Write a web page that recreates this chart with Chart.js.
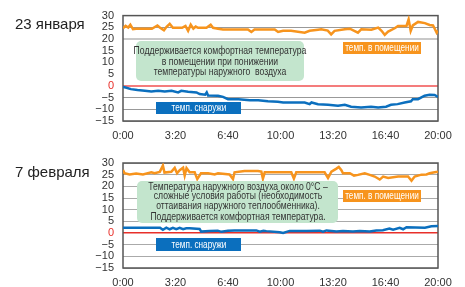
<!DOCTYPE html>
<html>
<head>
<meta charset="utf-8">
<script src="https://cdn.jsdelivr.net/npm/chart.js@4"></script>
<style>
  html, body { margin: 0; padding: 0; background: #fff; overflow: hidden; }
  #page { position: relative; width: 465px; height: 287px; font-family: "Liberation Sans", Arial, sans-serif; }
  .box { position: absolute; }
  .title { position: absolute; left: 15px; font-size: 15px; line-height: 15px; color: #222; }
  .note { position: absolute; background: #c3e5cd; border-radius: 5px; color: #333; }
  .tag { position: absolute; color: #fff; }
  /* narrow text: regular sans squeezed horizontally */
  .narrow { position: absolute; left: 50%; white-space: nowrap; text-align: center; font-size: 10.5px;
            transform: translateX(-50%) scaleX(0.82); transform-origin: center top; }
  .orange { background: #f7941d; }
  .blue { background: #0b6fbe; }
</style>
</head>
<body>
<div id="page">
  <div class="box" style="left:0;top:0;width:465px;height:143px"><canvas id="chart-jan"></canvas></div>
  <div class="box" style="left:0;top:144px;width:465px;height:143px"><canvas id="chart-feb"></canvas></div>

  <div class="title" style="top:16px">23 января</div>
  <div class="title" style="top:164px">7 февраля</div>

  <div class="note" style="left:136px;top:41px;width:168px;height:40px">
    <div class="narrow" style="top:4px;line-height:10.5px">Поддерживается комфортная температура<br>в помещении при понижении<br>температуры наружного&nbsp; воздуха</div>
  </div>
  <div class="tag orange" style="left:343px;top:42px;width:78px;height:12px">
    <div class="narrow" style="top:0;line-height:12px;font-size:10px">темп. в помещении</div>
  </div>
  <div class="tag blue" style="left:156px;top:102px;width:85px;height:12px">
    <div class="narrow" style="top:0;line-height:12px;font-size:10px">темп. снаружи</div>
  </div>

  <div class="note" style="left:137px;top:181px;width:201px;height:42px">
    <div class="narrow" style="top:0.5px;line-height:9.5px">Температура наружного воздуха около 0°C –<br>сложные условия работы (необходимость<br>оттаивания наружного теплообменника).<div style="margin-top:2px">Поддерживается комфортная температура.</div></div>
  </div>
  <div class="tag orange" style="left:343px;top:190px;width:78px;height:12px">
    <div class="narrow" style="top:0;line-height:12px;font-size:10px">темп. в помещении</div>
  </div>
  <div class="tag blue" style="left:156px;top:238px;width:85px;height:13px">
    <div class="narrow" style="top:0;line-height:13px;font-size:10px">темп. снаружи</div>
  </div>
</div>

<script>
// 23 января: indoor temperature (minutes from 0:00, °C)
const janIndoorTime = [0, 10, 20, 28, 38, 50, 110, 131, 140, 156, 166, 178, 190, 225, 238, 248, 258, 268, 277, 286,
  318, 334, 343, 362, 381, 476, 489, 501, 578, 591, 610, 640, 692, 711, 743, 755, 780, 793, 806, 845,
  864, 895, 908, 946, 972, 985, 997, 1010, 1035, 1048, 1080, 1088, 1096, 1104, 1124, 1150, 1168, 1181, 1187, 1195, 1200];
const janIndoorTemp = [24.6, 25.6, 24.9, 26.1, 24.2, 24.4, 24.4, 25.8, 24.9, 23.7, 25.2, 26.5, 24.8, 24.8, 25.6, 23.5, 26.1, 24.4, 25.3, 24.8,
  24.8, 26.1, 24.8, 24.4, 24.1, 24.1, 23.0, 24.1, 24.1, 23.0, 23.5, 23.5, 22.7, 23.5, 24.0, 24.2, 23.6, 22.0, 23.5, 24.2,
  24.4, 22.7, 24.2, 24.0, 24.9, 23.5, 21.8, 23.2, 24.6, 25.6, 25.6, 28.4, 23.5, 25.8, 27.3, 26.8, 26.0, 25.8, 24.5, 22.7, 23.5];

// 23 января: outdoor temperature
const janOutdoorTime = [0, 10, 30, 55, 83, 108, 134, 159, 185, 210, 222, 248, 280, 292, 313, 319, 324, 362, 381, 400,
  440, 483, 515, 552, 590, 610, 692, 711, 718, 743, 781, 819, 845, 869, 907, 945, 972, 1002, 1021, 1046,
  1073, 1097, 1104, 1124, 1149, 1168, 1187, 1200];
const janOutdoorTemp = [-0.5, -0.7, -1.4, -1.8, -2.1, -2.4, -2.1, -2.4, -2.1, -2.8, -2.1, -2.5, -2.8, -3.5, -3.8, -2.8, -4.1, -4.2, -4.7, -5.7,
  -5.7, -6.1, -6.1, -6.6, -6.8, -7.1, -7.1, -7.8, -7.1, -7.8, -8.1, -8.5, -8.1, -8.9, -9.2, -8.9, -9.2, -8.9, -8.1, -7.8,
  -7.1, -6.6, -5.7, -5.7, -4.2, -3.8, -3.9, -4.7];

// 7 февраля: indoor temperature
const febIndoorTime = [0, 6, 25, 50, 76, 108, 120, 140, 152, 158, 184, 197, 206, 216, 229, 235, 242, 254, 273, 283,
  297, 324, 349, 362, 406, 419, 425, 463, 514, 527, 533, 540, 591, 641, 651, 660, 768, 781, 794, 813,
  822, 832, 838, 864, 880, 895, 921, 940, 959, 978, 991, 1010, 1048, 1086, 1099, 1111, 1137, 1156, 1168, 1187, 1200];
const febIndoorTemp = [27.0, 25.6, 25.1, 25.5, 25.1, 26.0, 25.6, 26.2, 28.9, 25.9, 26.2, 27.9, 25.6, 26.9, 28.0, 24.6, 27.8, 26.0, 26.0, 23.1,
  25.6, 25.6, 25.1, 25.6, 25.1, 23.1, 26.0, 26.6, 26.6, 26.3, 23.3, 26.0, 26.0, 26.0, 23.3, 26.0, 26.0, 23.6, 26.3, 27.6,
  28.3, 26.9, 25.6, 25.6, 24.6, 24.9, 25.6, 24.9, 24.2, 22.9, 24.2, 23.6, 24.2, 24.2, 22.4, 24.2, 25.0, 25.1, 25.6, 26.0, 26.3];

// 7 февраля: outdoor temperature
const febOutdoorTime = [0, 141, 152, 165, 178, 190, 203, 216, 229, 241, 254, 292, 298, 330, 361, 375, 400, 425, 508, 521,
  535, 546, 597, 610, 635, 700, 750, 762, 775, 813, 838, 876, 902, 940, 965, 990, 1015, 1029, 1054, 1067,
  1080, 1150, 1175, 1200];
const febOutdoorTemp = [2.3, 2.3, 1.4, 2.3, 1.6, 2.2, 1.6, 2.2, 1.6, 2.0, 2.0, 1.7, 0.6, 0.9, 1.0, 0.5, 1.0, 1.1, 1.1, 0.6,
  1.0, 0.8, 0.3, 0.0, 0.9, 0.9, 1.0, 0.6, 1.1, 0.6, 0.9, 0.6, 0.9, 0.6, 1.1, 1.2, 1.9, 1.4, 2.2, 1.6,
  2.5, 2.3, 2.9, 3.0];

// Axis settings
const yMin = -15, yMax = 30, yStep = 5;
const xMin = 0, xMax = 1200, xStep = 200; // minutes, labelled as h:mm

const ORANGE = '#f7941d';
const BLUE = '#0b6fbe';
const RED = '#e8302a';

function toPoints(times, temps) {
    return times.map((t, i) => ({ x: t, y: temps[i] }));
}

function formatTime(v) {
    const h = Math.floor(v / 60);
    const m = v % 60;
    return h + ':' + String(m).padStart(2, '0');
}

function formatTemp(v) {
    return v < 0 ? '\u2212' + Math.abs(v) : String(v);
}

// Draws the dark frame around the plot area
const framePlugin = {
    id: 'frame',
    beforeDatasetsDraw(chart) {
        const { ctx, chartArea: a } = chart;
        ctx.save();
        ctx.strokeStyle = '#555';
        ctx.lineWidth = 1.5;
        ctx.strokeRect(a.left, a.top, a.width, a.height);
        ctx.restore();
    }
};

// Grid line look for the January chart (no lines at 5, 10, 15)
function janGridColor(v) {
    if (v === 0) return '#f47c7c';
    if (v === 20) return '#c8c8c8';
    if (v === 5 || v === 10 || v === 15) return 'rgba(0,0,0,0)';
    return '#999';
}
function janGridWidth(v) {
    if (v === 0 || v === 20) return 2;
    return 1;
}
function febGridColor(v) {
    if (v === 0) return RED;
    return '#aaa';
}
function febGridWidth(v) {
    return v === 0 ? 1.5 : 1;
}

function makeChart(canvasId, indoor, outdoor, gridColor, gridWidth, topPad, xHeight) {
    const ctx = document.getElementById(canvasId).getContext('2d');
    return new Chart(ctx, {
        type: 'line',
        data: {
            datasets: [
                {
                    label: 'темп. в помещении',
                    data: indoor,
                    borderColor: ORANGE,
                    borderWidth: 2.5,
                    pointRadius: 0,
                    tension: 0
                },
                {
                    label: 'темп. снаружи',
                    data: outdoor,
                    borderColor: BLUE,
                    borderWidth: 2.5,
                    pointRadius: 0,
                    tension: 0
                }
            ]
        },
        options: {
            responsive: true,
            maintainAspectRatio: false,
            animation: false,
            events: [],
            layout: { padding: { left: 83, right: 27, top: topPad, bottom: 0 } },
            plugins: {
                legend: { display: false },
                tooltip: { enabled: false }
            },
            scales: {
                x: {
                    type: 'linear',
                    min: xMin,
                    max: xMax,
                    afterFit: s => { s.height = xHeight; },
                    grid: { display: false, drawTicks: false },
                    border: { display: false },
                    ticks: {
                        stepSize: xStep,
                        padding: 8,
                        color: '#333',
                        font: { family: '"Liberation Sans", Arial, sans-serif', size: 11 },
                        maxRotation: 0,
                        autoSkip: false,
                        callback: v => formatTime(v)
                    }
                },
                y: {
                    min: yMin,
                    max: yMax,
                    afterFit: s => { s.width = 40; },
                    grid: {
                        drawTicks: false,
                        color: c => gridColor(c.tick.value),
                        lineWidth: c => gridWidth(c.tick.value)
                    },
                    border: { display: false },
                    ticks: {
                        stepSize: yStep,
                        padding: 9,
                        autoSkip: false,
                        color: c => (c.tick.value === 0 ? RED : '#333'),
                        font: { family: '"Liberation Sans", Arial, sans-serif', size: 11 },
                        callback: v => formatTemp(v)
                    }
                }
            }
        },
        plugins: [framePlugin]
    });
}

makeChart('chart-jan', toPoints(janIndoorTime, janIndoorTemp), toPoints(janOutdoorTime, janOutdoorTemp),
    janGridColor, janGridWidth, 15, 22);
makeChart('chart-feb', toPoints(febIndoorTime, febIndoorTemp), toPoints(febOutdoorTime, febOutdoorTemp),
    febGridColor, febGridWidth, 19, 19);
</script>
</body>
</html>
